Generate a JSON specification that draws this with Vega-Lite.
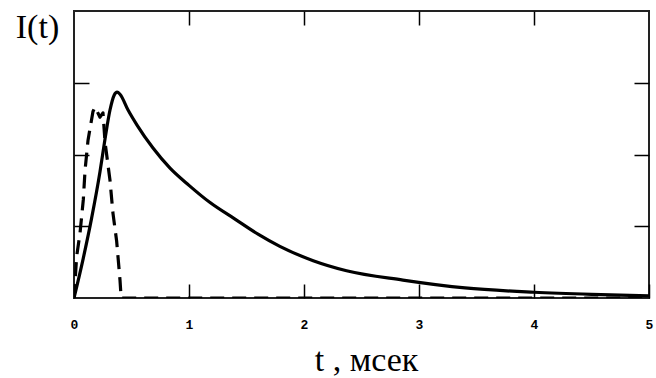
{
  "$schema": "https://vega.github.io/schema/vega-lite/v6.json",
  "width": 575,
  "height": 287,
  "autosize": "none",
  "padding": {"left": 74, "top": 11, "right": 7, "bottom": 80},
  "background": "white",
  "config": {
    "view": {"stroke": "#222", "strokeWidth": 2},
    "axis": {"domain": false, "grid": false, "tickColor": "#000", "tickWidth": 1.5}
  },
  "datasets": {
    "solid": [
      {"t": 0, "I": 0},
      {"t": 0.08, "I": 0.55},
      {"t": 0.154, "I": 1.12},
      {"t": 0.226, "I": 1.76},
      {"t": 0.27, "I": 2.22},
      {"t": 0.313, "I": 2.62},
      {"t": 0.35, "I": 2.83},
      {"t": 0.375, "I": 2.87},
      {"t": 0.4, "I": 2.84},
      {"t": 0.47, "I": 2.62},
      {"t": 0.548, "I": 2.41},
      {"t": 0.687, "I": 2.09},
      {"t": 0.835, "I": 1.81},
      {"t": 1.0, "I": 1.57},
      {"t": 1.183, "I": 1.33},
      {"t": 1.4, "I": 1.1},
      {"t": 1.6, "I": 0.89},
      {"t": 1.79, "I": 0.72},
      {"t": 2.08, "I": 0.52},
      {"t": 2.37, "I": 0.38},
      {"t": 2.86, "I": 0.25},
      {"t": 3.4, "I": 0.14},
      {"t": 4.0, "I": 0.08},
      {"t": 4.5, "I": 0.05},
      {"t": 5.0, "I": 0.03}
    ],
    "dashed": [
      {"t": 0, "I": 0},
      {"t": 0.023, "I": 0.58},
      {"t": 0.052, "I": 0.9},
      {"t": 0.081, "I": 1.37},
      {"t": 0.096, "I": 1.78},
      {"t": 0.122, "I": 2.2},
      {"t": 0.165, "I": 2.6},
      {"t": 0.183, "I": 2.66},
      {"t": 0.226, "I": 2.52},
      {"t": 0.252, "I": 2.58},
      {"t": 0.27, "I": 2.17},
      {"t": 0.313, "I": 1.64},
      {"t": 0.339, "I": 1.18},
      {"t": 0.371, "I": 0.79},
      {"t": 0.4, "I": 0.25},
      {"t": 0.41, "I": 0},
      {"t": 5.0, "I": 0}
    ]
  },
  "layer": [
    {
      "data": {"name": "solid"},
      "mark": {"type": "line", "color": "#000", "strokeWidth": 3.2, "interpolate": "monotone", "strokeJoin": "round", "clip": true},
      "encoding": {
        "x": {
          "field": "t", "type": "quantitative",
          "scale": {"domain": [0, 5], "nice": false, "zero": false},
          "axis": {
            "orient": "bottom", "values": [0, 1, 2, 3, 4, 5],
            "tickSize": -14, "labelPadding": 44, "labelBaseline": "alphabetic",
            "labelFont": "Liberation Mono", "labelFontSize": 13, "labelFontWeight": "bold", "labelColor": "#000",
            "labelFlush": false, "labelOverlap": false,
            "title": "t , мсек", "titleFont": "Liberation Serif", "titleFontSize": 34,
            "titleFontWeight": "normal", "titleColor": "#000",
            "titleAlign": "center", "titleBaseline": "alphabetic",
            "titleX": 292, "titleY": 72
          }
        },
        "y": {
          "field": "I", "type": "quantitative",
          "scale": {"domain": [0, 4], "nice": false},
          "axis": {
            "orient": "left", "values": [1, 2, 3], "labels": false,
            "tickSize": -15,
            "title": "I(t)", "titleFont": "Liberation Serif", "titleFontSize": 34,
            "titleFontWeight": "normal", "titleColor": "#000", "titleAngle": 0,
            "titleAlign": "center", "titleBaseline": "alphabetic",
            "titleX": -37, "titleY": 26
          }
        }
      }
    },
    {
      "data": {"name": "dashed"},
      "mark": {"type": "line", "color": "#000", "strokeWidth": 3.2, "strokeDash": [14, 8], "strokeJoin": "round", "clip": true},
      "encoding": {
        "x": {
          "field": "t", "type": "quantitative",
          "axis": {"orient": "top", "values": [1, 2, 3, 4], "labels": false, "tickSize": -14, "title": null}
        },
        "y": {
          "field": "I", "type": "quantitative",
          "axis": {"orient": "right", "values": [1, 2, 3], "labels": false, "tickSize": -15, "title": null}
        }
      }
    }
  ],
  "resolve": {"axis": {"x": "independent", "y": "independent"}}
}
